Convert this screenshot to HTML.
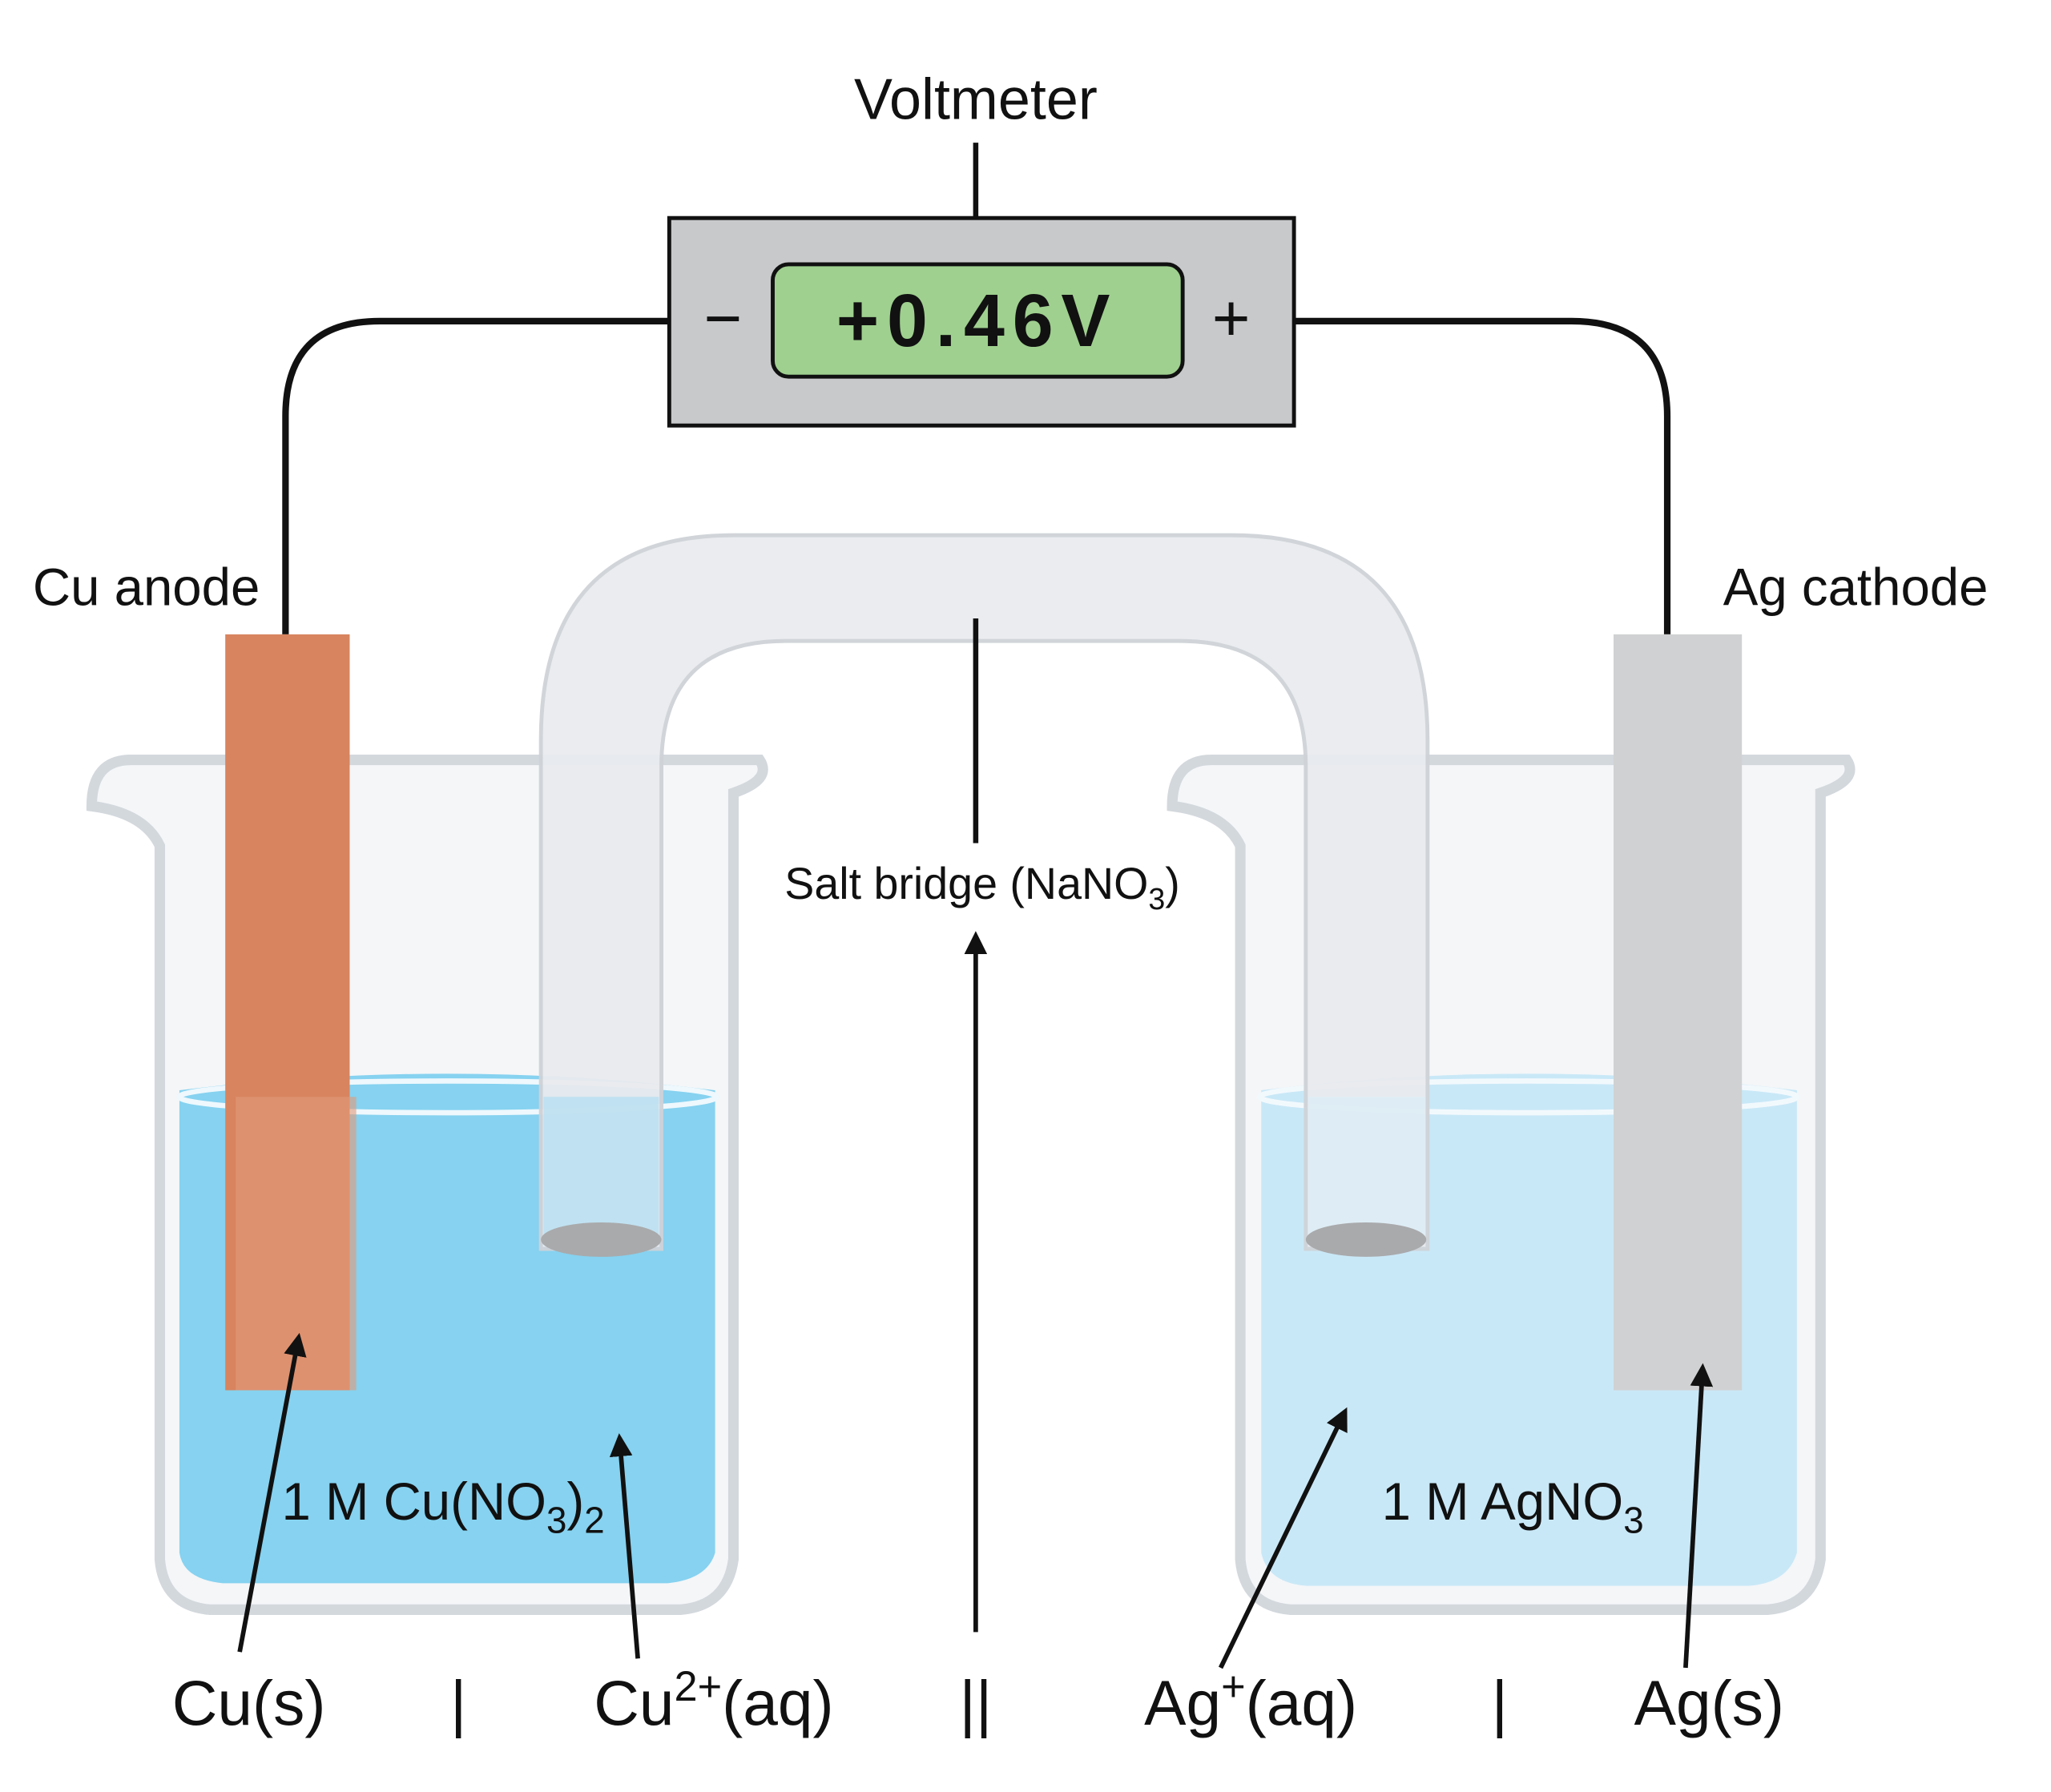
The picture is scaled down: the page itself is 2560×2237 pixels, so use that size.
<!DOCTYPE html>
<html><head><meta charset="utf-8"><style>
html,body{margin:0;padding:0;background:#fff}
svg{display:block}
text{font-family:"Liberation Sans",sans-serif;fill:#111}
</style></head><body>
<svg width="2560" height="2237" viewBox="0 0 1566 1356" preserveAspectRatio="none" xmlns="http://www.w3.org/2000/svg">
<defs>
<marker id="ah" viewBox="0 0 10 10" refX="8" refY="5" markerWidth="5" markerHeight="5" orient="auto-start-reverse">
<path d="M0,0 L10,5 L0,10 z" fill="#111"/></marker>
</defs>
<rect width="1566" height="1356" fill="#fff"/>
<text x="745" y="90" font-size="44" text-anchor="middle">Voltmeter</text>
<line x1="745" y1="108" x2="745" y2="165" stroke="#111" stroke-width="4"/>
<path d="M511,243 L290,243 Q218,243 218,315 L218,480" fill="none" stroke="#111" stroke-width="5"/>
<path d="M988,243 L1200,243 Q1273,243 1273,315 L1273,480" fill="none" stroke="#111" stroke-width="5"/>
<rect x="511" y="165" width="477" height="157" fill="#c8c9cb" stroke="#111" stroke-width="3"/>
<rect x="590" y="200" width="313" height="85" rx="12" fill="#9fd08f" stroke="#111" stroke-width="3"/>
<text x="746" y="262" font-size="56" font-weight="bold" text-anchor="middle" font-family="Liberation Mono,monospace" letter-spacing="6">+0.46V</text>
<text x="552" y="258" font-size="50" text-anchor="middle">−</text>
<text x="940" y="258" font-size="50" text-anchor="middle">+</text>
<text x="25" y="458" font-size="40">Cu anode</text>
<text x="1518" y="458" font-size="40" text-anchor="end">Ag cathode</text>
<g fill="#f4f6f8" stroke="#d3d8dd" stroke-width="8">
<path d="M70,610 Q70,575 100,575 L580,575 Q590,590 560,600 L560,1180 Q555,1215 520,1218 L160,1218 Q125,1215 122,1180 L122,640 Q110,615 70,610 z"/>
<path d="M895,610 Q895,575 925,575 L1410,575 Q1420,590 1390,600 L1390,1180 Q1385,1215 1350,1218 L985,1218 Q950,1215 947,1180 L947,640 Q935,615 895,610 z"/>
</g>
<path d="M137,825 Q340,800 546,825 L546,1175 Q540,1195 510,1198 L170,1198 Q140,1195 137,1175 z" fill="#86d2f0"/>
<path d="M963,825 Q1165,800 1372,825 L1372,1175 Q1365,1198 1335,1200 L998,1200 Q968,1198 963,1175 z" fill="#c9e8f7"/>
<ellipse cx="342" cy="830" rx="205" ry="12" fill="none" stroke="#eef8fd" stroke-width="4"/>
<ellipse cx="1167" cy="830" rx="205" ry="12" fill="none" stroke="#f2f9fd" stroke-width="4"/>
<rect x="172" y="480" width="95" height="572" fill="#d8845f"/>
<rect x="180" y="830" width="92" height="222" fill="#e29a7a" opacity="0.6"/>
<rect x="1232" y="480" width="98" height="572" fill="#d0d1d2"/>
<path d="M413,945 L413,560 Q413,405 560,405 L940,405 Q1090,405 1090,560 L1090,945 L997,945 L997,580 Q997,485 900,485 L600,485 Q505,485 505,580 L505,945 z" fill="#e9ebef" stroke="#cfd3d8" stroke-width="3" opacity="0.95"/>
<rect x="415" y="830" width="88" height="110" fill="#a8dcf2" opacity="0.6"/>
<rect x="999" y="830" width="89" height="110" fill="#d8eef8" opacity="0.6"/>
<ellipse cx="459" cy="938" rx="46" ry="13" fill="#a9aaac"/>
<ellipse cx="1043" cy="938" rx="46" ry="13" fill="#a9aaac"/>
<line x1="745" y1="468" x2="745" y2="638" stroke="#111" stroke-width="4"/>
<text x="750" y="680" font-size="34" text-anchor="middle" fill="#222">Salt bridge (NaNO<tspan font-size="23" dy="8">3</tspan><tspan dy="-8">)</tspan></text>
<g stroke="#111" stroke-width="3.5" marker-end="url(#ah)">
<line x1="745" y1="1235" x2="745" y2="708"/>
<line x1="183" y1="1250" x2="228" y2="1012"/>
<line x1="487" y1="1255" x2="473" y2="1088"/>
<line x1="932" y1="1262" x2="1027" y2="1068"/>
<line x1="1287" y1="1262" x2="1300" y2="1035"/>
</g>
<text x="215" y="1150" font-size="40">1 M Cu(NO<tspan font-size="28" dy="10">3</tspan><tspan dy="-10">)</tspan><tspan font-size="28" dy="10">2</tspan></text>
<text x="1055" y="1150" font-size="40">1 M AgNO<tspan font-size="28" dy="10">3</tspan></text>
<g font-size="48" text-anchor="middle">
<text x="190" y="1305">Cu(s)</text>
<text x="350" y="1305">|</text>
<text x="545" y="1305">Cu<tspan font-size="32" dy="-18">2+</tspan><tspan dy="18">(aq)</tspan></text>
<text x="745" y="1305">||</text>
<text x="955" y="1305">Ag<tspan font-size="32" dy="-18">+</tspan><tspan dy="18">(aq)</tspan></text>
<text x="1145" y="1305">|</text>
<text x="1305" y="1305">Ag(s)</text>
</g>
</svg>
</body></html>
